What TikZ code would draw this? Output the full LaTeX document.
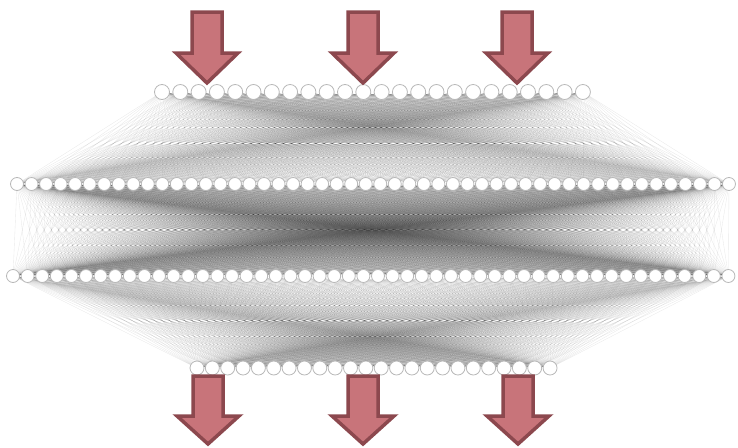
\documentclass[tikz,border=0pt]{standalone}
\usetikzlibrary{backgrounds}
\definecolor{arrowfill}{RGB}{200,116,122}
\definecolor{arrowedge}{RGB}{140,72,78}

\begin{document}
\begin{tikzpicture}[x=1pt,y=-1pt,
  unit/.style={circle,draw=black!28,fill=white,line width=0.8pt,inner sep=0pt,minimum size=#1},
  link/.style={draw=black,opacity=0.085,line width=0.35pt},
  bigarrow/.style={fill=arrowfill,draw=arrowedge,line width=3.5pt,line join=miter}]
\useasboundingbox (0,0) rectangle (738,447);
\foreach \i in {1,...,24} \node[unit=15pt] (a\i) at ({162+(\i-1)*18.3},92) {};
\foreach \i in {1,...,50} \node[unit=13pt] (b\i) at ({17+(\i-1)*14.53},184) {};
\foreach \i in {1,...,50} \node[unit=13pt] (c\i) at ({13+(\i-1)*14.6},276) {};
\foreach \i in {1,...,24} \node[unit=14pt] (d\i) at ({197+(\i-1)*15.35},368) {};
\begin{pgfonlayer}{background}
\foreach \i in {1,...,24} \foreach \j in {1,...,50} \draw[link] (a\i.center) -- (b\j.center);
\foreach \i in {1,...,50} \foreach \j in {1,...,50} \draw[link] (b\i.center) -- (c\j.center);
\foreach \i in {1,...,50} \foreach \j in {1,...,24} \draw[link] (c\i.center) -- (d\j.center);
\end{pgfonlayer}
% input and output arrows
\foreach \cx in {207,363,517}
  \draw[bigarrow] (\cx-15,12) -- (\cx+15,12) -- (\cx+15,53) -- (\cx+31,53)
    -- (\cx,83) -- (\cx-31,53) -- (\cx-15,53) -- cycle;
\foreach \cx in {208,363,518}
  \draw[bigarrow] (\cx-15,376) -- (\cx+15,376) -- (\cx+15,416) -- (\cx+31,416)
    -- (\cx,444) -- (\cx-31,416) -- (\cx-15,416) -- cycle;
\end{tikzpicture}
\end{document}
